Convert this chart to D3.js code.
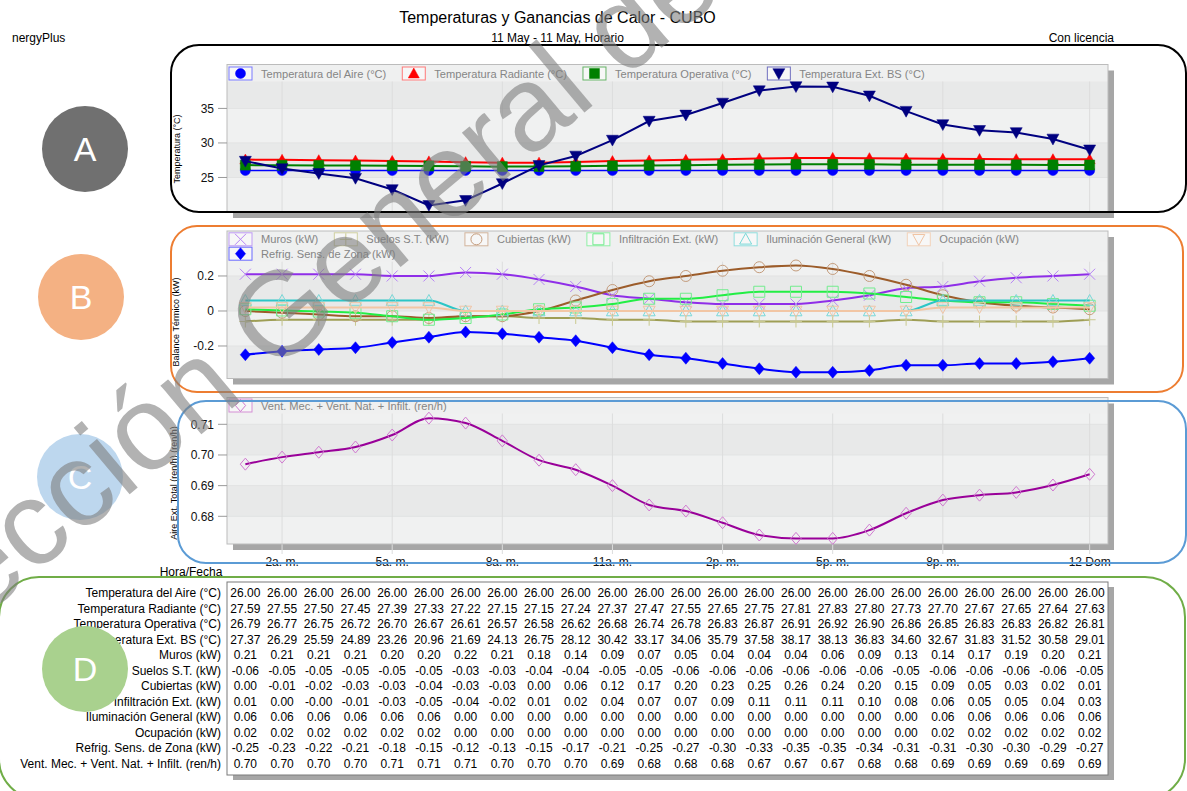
<!DOCTYPE html>
<html>
<head>
<meta charset="utf-8">
<script src="https://cdn.jsdelivr.net/npm/d3@7"></script>
<style>
  body { margin: 0; background: #fff; }
  svg { display: block; font-family: "Liberation Sans", Arial, sans-serif; }
</style>
</head>
<body>
<svg id="chart" width="1187" height="791"></svg>
<script>
// ---- Hourly data, 11 May (hours 1..24) ----
const hours = [1,2,3,4,5,6,7,8,9,10,11,12,13,14,15,16,17,18,19,20,21,22,23,24];
const xTickHours  = [2, 5, 8, 11, 14, 17, 20, 24];
const xTickLabels = ["2a. m.", "5a. m.", "8a. m.", "11a. m.", "2p. m.", "5p. m.", "8p. m.", "12 Dom"];

const tempAire      = [26.00,26.00,26.00,26.00,26.00,26.00,26.00,26.00,26.00,26.00,26.00,26.00,26.00,26.00,26.00,26.00,26.00,26.00,26.00,26.00,26.00,26.00,26.00,26.00];
const tempRadiante  = [27.59,27.55,27.50,27.45,27.39,27.33,27.22,27.15,27.15,27.24,27.37,27.47,27.55,27.65,27.75,27.81,27.83,27.80,27.73,27.70,27.67,27.65,27.64,27.63];
const tempOperativa = [26.79,26.77,26.75,26.72,26.70,26.67,26.61,26.57,26.58,26.62,26.68,26.74,26.78,26.83,26.87,26.91,26.92,26.90,26.86,26.85,26.83,26.83,26.82,26.81];
const tempExtBS     = [27.37,26.29,25.59,24.89,23.26,20.96,21.69,24.13,26.75,28.12,30.42,33.17,34.06,35.79,37.58,38.17,38.13,36.83,34.60,32.67,31.83,31.52,30.58,29.01];

const muros         = [0.21,0.21,0.21,0.21,0.20,0.20,0.22,0.21,0.18,0.14,0.09,0.07,0.05,0.04,0.04,0.04,0.06,0.09,0.13,0.14,0.17,0.19,0.20,0.21];
const suelos        = [-0.06,-0.05,-0.05,-0.05,-0.05,-0.05,-0.03,-0.03,-0.04,-0.04,-0.05,-0.05,-0.06,-0.06,-0.06,-0.06,-0.06,-0.06,-0.05,-0.06,-0.06,-0.06,-0.06,-0.05];
const cubiertas     = [0.00,-0.01,-0.02,-0.03,-0.03,-0.04,-0.03,-0.03,0.00,0.06,0.12,0.17,0.20,0.23,0.25,0.26,0.24,0.20,0.15,0.09,0.05,0.03,0.02,0.01];
const infiltracion  = [0.01,0.003,-0.003,-0.01,-0.03,-0.05,-0.04,-0.02,0.01,0.02,0.04,0.07,0.07,0.09,0.11,0.11,0.11,0.10,0.08,0.06,0.05,0.05,0.04,0.03];
const iluminacion   = [0.06,0.06,0.06,0.06,0.06,0.06,0.00,0.00,0.00,0.00,0.00,0.00,0.00,0.00,0.00,0.00,0.00,0.00,0.00,0.06,0.06,0.06,0.06,0.06];
const ocupacion     = [0.02,0.02,0.02,0.02,0.02,0.02,0.00,0.00,0.00,0.00,0.00,0.00,0.00,0.00,0.00,0.00,0.00,0.00,0.00,0.02,0.02,0.02,0.02,0.02];
const refrigeracion = [-0.25,-0.23,-0.22,-0.21,-0.18,-0.15,-0.12,-0.13,-0.15,-0.17,-0.21,-0.25,-0.27,-0.30,-0.33,-0.35,-0.35,-0.34,-0.31,-0.31,-0.30,-0.30,-0.29,-0.27];

const renovaciones  = [0.6970,0.6993,0.7009,0.7026,0.7065,0.7120,0.7104,0.7046,0.6983,0.6952,0.6900,0.6837,0.6817,0.6779,0.6739,0.6728,0.6728,0.6755,0.6810,0.6853,0.6869,0.6878,0.6902,0.6937];

const tempTicks    = [25, 30, 35];
const balanceTicks = [-0.2, 0, 0.2];
const renTicks     = [0.68, 0.69, 0.70, 0.71];

// ---- Layout ----
const W = 1187, H = 791;
const plotLeft = 227, plotRight = 1108;
const svg = d3.select("#chart");
svg.append("rect").attr("width", W).attr("height", H).attr("fill", "#fff");

const x = d3.scaleLinear().domain([0.5, 24.5]).range([plotLeft, plotRight]);

// ---- Header ----
svg.append("text").attr("x", 557.5).attr("y", 23).attr("text-anchor", "middle")
  .attr("font-size", 16).text("Temperaturas y Ganancias de Calor - CUBO");
svg.append("text").attr("x", 557.5).attr("y", 42).attr("text-anchor", "middle")
  .attr("font-size", 12).text("11 May - 11 May, Horario");
svg.append("text").attr("x", 12).attr("y", 42).attr("font-size", 12).text("nergyPlus");
svg.append("text").attr("x", 1114).attr("y", 42).attr("text-anchor", "end")
  .attr("font-size", 12).text("Con licencia");

// ---- Marker shapes ----
function markerPath(type, w) {
  switch (type) {
    case "circle":  return `M${-w},0a${w},${w} 0 1,0 ${2*w},0a${w},${w} 0 1,0 ${-2*w},0Z`;
    case "triUp":   return `M0,${-w}L${w},${w*0.8}L${-w},${w*0.8}Z`;
    case "triDown": return `M0,${w}L${w},${-w*0.8}L${-w},${-w*0.8}Z`;
    case "square":  return `M${-w},${-w}H${w}V${w}H${-w}Z`;
    case "diamond": return `M0,${-w}L${w*0.85},0L0,${w}L${-w*0.85},0Z`;
    case "x":       return `M${-w},${-w}L${w},${w}M${-w},${w}L${w},${-w}`;
    case "plus":    return `M${-w},0H${w}M0,${-w}V${w}`;
  }
}
function drawMarker(g, s, cx, cy) {
  g.append("path")
    .attr("d", markerPath(s.marker, s.size))
    .attr("transform", `translate(${cx},${cy})`)
    .attr("fill", s.filled ? s.color : "none")
    .attr("stroke", s.filled ? s.color : s.mcolor)
    .attr("stroke-width", s.filled ? 0.5 : 1);
}

// ---- Panels ----
const panels = [
  {
    top: 64.5, bottom: 212, domain: [20, 41.36], ticks: tempTicks,
    fmt: d => String(d), title: "Temperatura (°C)", titleX: 180, titleY: 149,
    firstBandLight: true, curve: d3.curveLinear, legendRows: [[0, 1, 2, 3]], legendY: [73.5],
    series: [
      { name: "Temperatura del Aire (°C)", values: tempAire, color: "#0000ff", box: "#7a7aff", marker: "circle", size: 5, filled: true, width: 1.5 },
      { name: "Temperatura Radiante (°C)", values: tempRadiante, color: "#ff0000", box: "#ff7a7a", marker: "triUp", size: 5.5, filled: true, width: 2 },
      { name: "Temperatura Operativa (°C)", values: tempOperativa, color: "#008000", box: "#66b366", marker: "square", size: 5, filled: true, width: 2 },
      { name: "Temperatura Ext. BS (°C)", values: tempExtBS, color: "#000080", box: "#7070c0", marker: "triDown", size: 6, filled: true, width: 2 }
    ]
  },
  {
    top: 231, bottom: 378.5, domain: [-0.3857, 0.457], ticks: balanceTicks,
    fmt: d => d === 0 ? "0" : d.toFixed(1), title: "Balance Térmico (kW)", titleX: 179, titleY: 322,
    firstBandLight: false, curve: d3.curveMonotoneX, legendRows: [[0, 1, 2, 3, 4, 5], [6]], legendY: [239.3, 253.7],
    series: [
      { name: "Muros (kW)", values: muros, color: "#8f2ee8", mcolor: "#b784f5", box: "#c09cf5", marker: "x", size: 5.5, filled: false, width: 2 },
      { name: "Suelos S.T. (kW)", values: suelos, color: "#9e9e55", mcolor: "#c9c98f", box: "#d0d0a0", marker: "plus", size: 6, filled: false, width: 2 },
      { name: "Cubiertas (kW)", values: cubiertas, color: "#9c5c2a", mcolor: "#c49c7c", box: "#d2b49c", marker: "circle", size: 5.5, filled: false, width: 2 },
      { name: "Infiltración Ext. (kW)", values: infiltracion, color: "#22ee44", mcolor: "#72ec8e", box: "#8ff0a6", marker: "square", size: 5.5, filled: false, width: 2 },
      { name: "Iluminación General (kW)", values: iluminacion, color: "#2cc6c6", mcolor: "#78d8d8", box: "#90dede", marker: "triUp", size: 6, filled: false, width: 2 },
      { name: "Ocupación (kW)", values: ocupacion, color: "#f2c6a4", mcolor: "#f0c4a4", box: "#f2d2ba", marker: "triDown", size: 6, filled: false, width: 2 },
      { name: "Refrig. Sens. de Zona (kW)", values: refrigeracion, color: "#0000ff", box: "#6b6bff", marker: "diamond", size: 6, filled: true, width: 2 }
    ]
  },
  {
    top: 397.5, bottom: 544, domain: [0.67097, 0.71874], ticks: renTicks,
    fmt: d => d.toFixed(2), title: "Aire Ext. Total (ren/h) (ren/h)", titleX: 177, titleY: 483,
    firstBandLight: true, curve: d3.curveMonotoneX, legendRows: [[0]], legendY: [405.5],
    series: [
      { name: "Vent. Mec. + Vent. Nat. + Infilt. (ren/h)", values: renovaciones, color: "#990099", mcolor: "#d07ad0", box: "#d58fd5", marker: "diamond", size: 6, filled: false, width: 2 }
    ]
  }
];

panels.forEach((p, pi) => {
  const g = svg.append("g");
  const y = d3.scaleLinear().domain(p.domain).range([p.bottom, p.top]);
  const w = plotRight - plotLeft, h = p.bottom - p.top;

  // drop shadow + frame background
  g.append("rect").attr("x", plotLeft + 6).attr("y", p.top + 6).attr("width", w).attr("height", h).attr("fill", "#a6a6a6");
  g.append("rect").attr("x", plotLeft).attr("y", p.top).attr("width", w).attr("height", h).attr("fill", "#eceded");

  // alternating horizontal bands between ticks
  const bounds = [p.domain[0], ...p.ticks, p.domain[1]];
  for (let i = 0; i < bounds.length - 1; i++) {
    const light = (i % 2 === 0) === p.firstBandLight;
    g.append("rect").attr("x", plotLeft).attr("width", w)
      .attr("y", y(bounds[i + 1])).attr("height", y(bounds[i]) - y(bounds[i + 1]))
      .attr("fill", light ? "#f0f1f1" : "#e8e9e9");
  }
  // legend strip
  g.append("rect").attr("x", plotLeft).attr("y", p.top).attr("width", w)
    .attr("height", p.legendY[p.legendY.length - 1] + 8 - p.top).attr("fill", "#eff0f0");

  // grid lines
  g.selectAll(null).data(p.ticks).enter().append("line")
    .attr("x1", plotLeft).attr("x2", plotRight)
    .attr("y1", d => y(d)).attr("y2", d => y(d))
    .attr("stroke", "#e2e3e3");
  g.selectAll(null).data(xTickHours).enter().append("line")
    .attr("x1", d => x(d)).attr("x2", d => x(d))
    .attr("y1", p.legendY[p.legendY.length - 1] + 8).attr("y2", p.bottom + (pi === 2 ? 10 : 0))
    .attr("stroke", "#dcdddd");

  g.append("rect").attr("x", plotLeft).attr("y", p.top).attr("width", w).attr("height", h)
    .attr("fill", "none").attr("stroke", "#bcbcbc");

  // y axis
  g.selectAll(null).data(p.ticks).enter().append("line")
    .attr("x1", plotLeft - 9).attr("x2", plotLeft).attr("y1", d => y(d)).attr("y2", d => y(d))
    .attr("stroke", "#9a9a9a");
  g.selectAll(null).data(p.ticks).enter().append("text")
    .attr("x", plotLeft - 13).attr("y", d => y(d) + 4.3).attr("text-anchor", "end")
    .attr("font-size", 12).attr("fill", "#111").text(p.fmt);
  g.append("text").attr("transform", `translate(${p.titleX},${p.titleY}) rotate(-90)`)
    .attr("text-anchor", "middle").attr("font-size", 9).text(p.title);

  // legend
  p.legendRows.forEach((row, ri) => {
    let bx = 229;
    const cy = p.legendY[ri];
    row.forEach(idx => {
      const s = p.series[idx];
      g.append("rect").attr("x", bx).attr("y", cy - 6.5).attr("width", 23).attr("height", 13)
        .attr("fill", "#f7f7f7").attr("stroke", s.box);
      drawMarker(g, s, bx + 11.5, cy);
      const t = g.append("text").attr("x", bx + 32).attr("y", cy + 4).attr("font-size", 11.1)
        .attr("fill", "#858585").text(s.name);
      bx = bx + 32 + t.node().getComputedTextLength() + 16;
    });
  });

  // series
  p.series.forEach(s => {
    const pts = hours.map((hr, i) => [x(hr), y(s.values[i])]);
    g.append("path").attr("d", d3.line().curve(p.curve)(pts))
      .attr("fill", "none").attr("stroke", s.color).attr("stroke-width", s.width);
    pts.forEach(pt => drawMarker(g, s, pt[0], pt[1]));
  });

  // x axis labels under the last panel
  if (pi === 2) {
    g.selectAll(null).data(xTickHours).enter().append("text")
      .attr("x", d => x(d)).attr("y", 566).attr("text-anchor", "middle")
      .attr("font-size", 12).attr("fill", "#111")
      .text((d, i) => xTickLabels[i]);
  }
});

// ---- Data table ----
svg.append("text").attr("x", 191).attr("y", 576).attr("text-anchor", "middle").attr("font-size", 12).text("Hora/Fecha");
const tableRows = [
  ["Temperatura del Aire (°C)", tempAire],
  ["Temperatura Radiante (°C)", tempRadiante],
  ["Temperatura Operativa (°C)", tempOperativa],
  ["Temperatura Ext. BS (°C)", tempExtBS],
  ["Muros (kW)", muros],
  ["Suelos S.T. (kW)", suelos],
  ["Cubiertas (kW)", cubiertas],
  ["Infiltración Ext. (kW)", infiltracion],
  ["Iluminación General (kW)", iluminacion],
  ["Ocupación (kW)", ocupacion],
  ["Refrig. Sens. de Zona (kW)", refrigeracion],
  ["Vent. Mec. + Vent. Nat. + Infilt. (ren/h)", renovaciones]
];
const tTop = 582, tBottom = 775;
svg.append("rect").attr("x", plotLeft + 6).attr("y", tTop + 5).attr("width", plotRight - plotLeft)
  .attr("height", tBottom - tTop).attr("fill", "#a6a6a6");
svg.append("rect").attr("x", plotLeft).attr("y", tTop).attr("width", plotRight - plotLeft)
  .attr("height", tBottom - tTop).attr("fill", "#fff").attr("stroke", "#7a7a7a");
const table = svg.append("g").attr("font-size", 12).attr("fill", "#000");
tableRows.forEach((row, ri) => {
  const by = 597 + ri * 15.5;
  table.append("text").attr("x", 221).attr("y", by).attr("text-anchor", "end").text(row[0]);
  row[1].forEach((v, i) => {
    table.append("text").attr("x", x(hours[i])).attr("y", by).attr("text-anchor", "middle").text(v.toFixed(2));
  });
});

// ---- Section frames ----
const frames = [
  { x: 171, y: 45,  w: 1015, h: 167, r: 28, color: "#000000" },
  { x: 171, y: 226, w: 1012, h: 166, r: 26, color: "#ed7d31" },
  { x: 178, y: 401, w: 1008, h: 162, r: 28, color: "#5b9bd5" },
  { x: -1,  y: 577, w: 1186, h: 222, r: 40, color: "#70ad47" }
];
svg.selectAll(null).data(frames).enter().append("rect")
  .attr("x", d => d.x).attr("y", d => d.y).attr("width", d => d.w).attr("height", d => d.h)
  .attr("rx", d => d.r).attr("ry", d => d.r)
  .attr("fill", "none").attr("stroke", d => d.color).attr("stroke-width", 2);

// ---- Section badges ----
const badges = [
  { label: "A", cx: 85, cy: 149, fill: "#707070" },
  { label: "B", cx: 81, cy: 297, fill: "#f4b183" },
  { label: "C", cx: 80, cy: 477, fill: "#bdd7ee" },
  { label: "D", cx: 85, cy: 669, fill: "#a9d18e" }
];
const bg = svg.selectAll(null).data(badges).enter().append("g");
bg.append("circle").attr("cx", d => d.cx).attr("cy", d => d.cy).attr("r", 43).attr("fill", d => d.fill);
bg.append("text").attr("x", d => d.cx).attr("y", d => d.cy + 12).attr("text-anchor", "middle")
  .attr("font-size", 34).attr("fill", "#fff").text(d => d.label);

// ---- Watermark ----
svg.append("text").attr("transform", "translate(-137,718) rotate(-40)")
  .attr("font-size", 120).attr("fill", "#7f7f7f").attr("opacity", 0.6)
  .text("Dirección General de");
</script>
</body>
</html>
